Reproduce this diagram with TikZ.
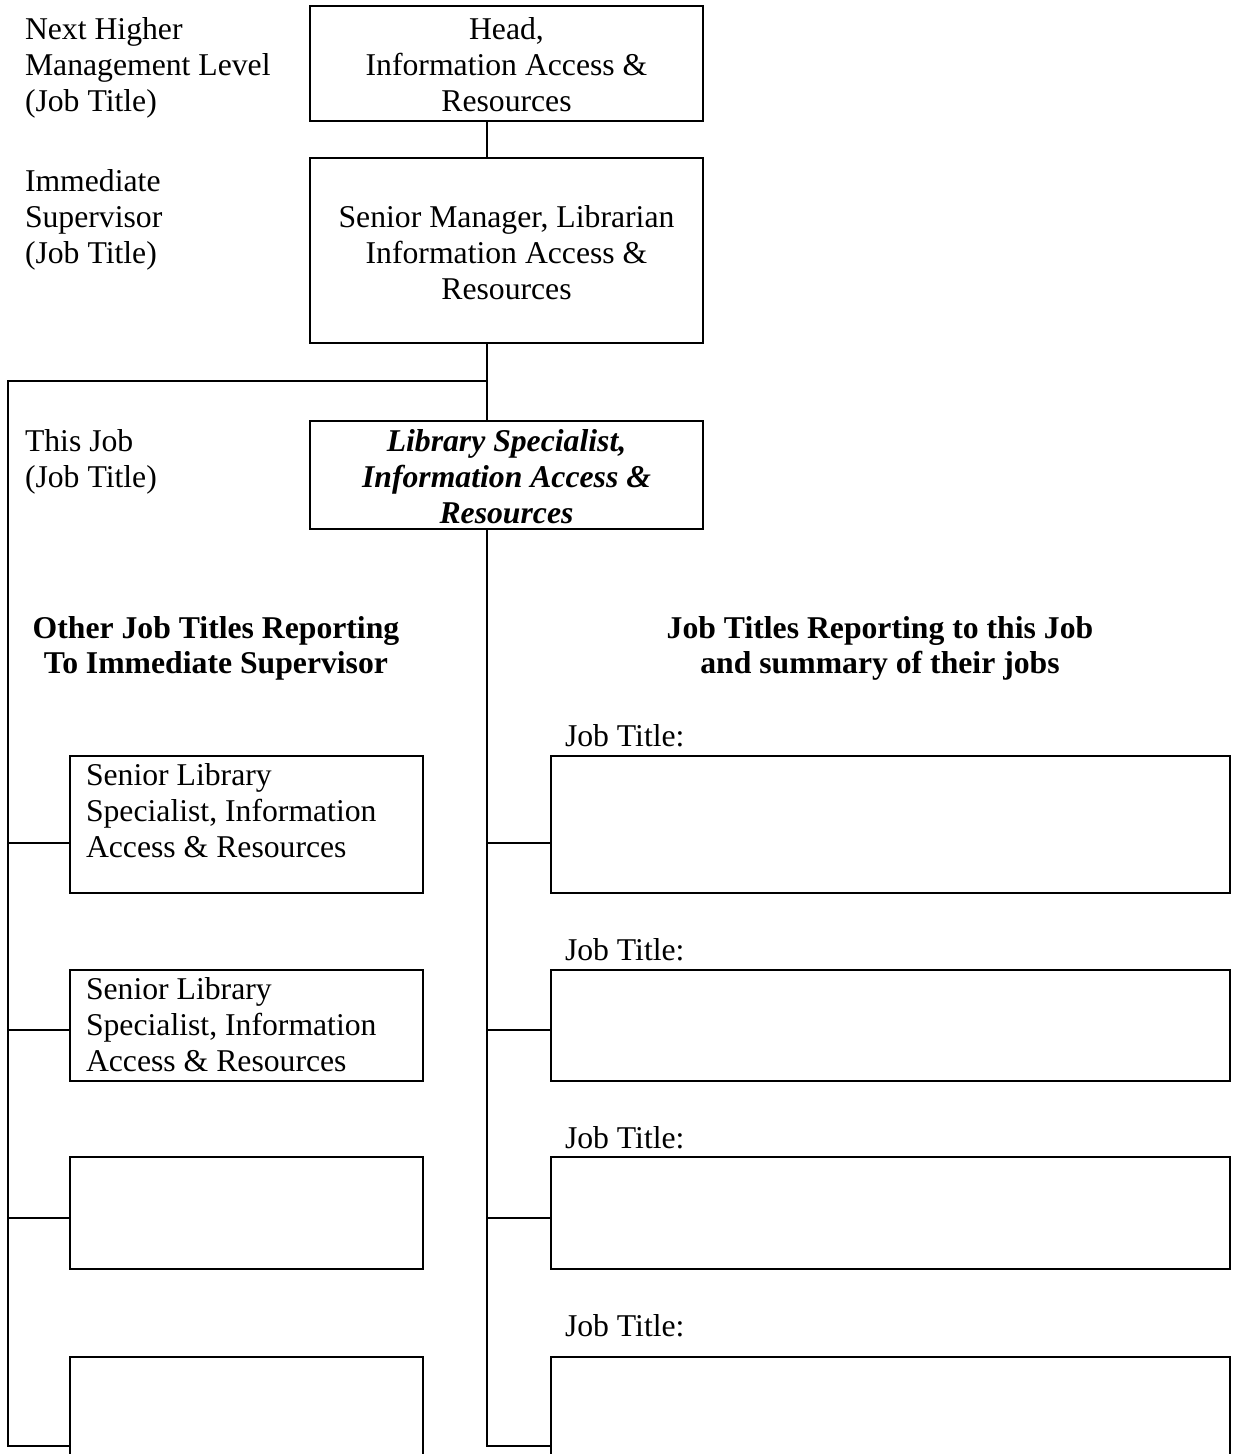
\documentclass[tikz,border=0pt]{standalone}
\usepackage{fontspec}
\setmainfont{Liberation Serif}
\newcommand{\firstln}{\rule{0pt}{25pt}}
\begin{document}
\begin{tikzpicture}[x=1pt,y=-1pt,
  every node/.style={font=\fontsize{31.7}{36}\selectfont, inner sep=0pt, outer sep=0pt},
  box/.style={draw, line width=2pt, rectangle, anchor=north west},
  conn/.style={line width=2pt, line cap=rect},
  lefttxt/.style={align=left, anchor=north west},
  ctrtxt/.style={align=center, anchor=north},
  hdr/.style={align=center, anchor=north, font=\fontsize{31.7}{35}\selectfont\bfseries}
]
\clip (0,0) rectangle (1232,1454);
\useasboundingbox (0,0) rectangle (1232,1454);

% main boxes
\node[box, minimum width=393pt, minimum height=115pt] (head) at (310,6) {};
\node[box, minimum width=393pt, minimum height=185pt] (senior) at (310,158) {};
\node[box, minimum width=393pt, minimum height=108pt] (lib) at (310,421) {};

\node[ctrtxt] (headtxt) at (506.5,14) {\firstln Head,\\Information Access \&\\Resources};
\node[ctrtxt] (seniortxt) at (506.5,202) {\firstln Senior Manager, Librarian\\Information Access \&\\Resources};
\node[ctrtxt, font=\fontsize{31.7}{36}\selectfont\bfseries\itshape] (libtxt) at (506.5,426) {\firstln Library Specialist,\\Information Access \&\\Resources};

% left labels
\node[lefttxt] (lab1) at (25,14) {\firstln Next Higher\\Management Level\\(Job Title)};
\node[lefttxt] (lab2) at (25,166) {\firstln Immediate\\Supervisor\\(Job Title)};
\node[lefttxt] (lab3) at (25,426) {\firstln This Job\\(Job Title)};

% headers
\node[hdr] (hdrL) at (216,613) {\firstln Other Job Titles Reporting\\To Immediate Supervisor};
\node[hdr] (hdrR) at (880,613) {\firstln Job Titles Reporting to this Job\\and summary of their jobs};

% left boxes
\node[box, minimum width=353pt, minimum height=137pt] (L1) at (70,756) {};
\node[box, minimum width=353pt, minimum height=111pt] (L2) at (70,970) {};
\node[box, minimum width=353pt, minimum height=112pt] (L3) at (70,1157) {};
\node[box, minimum width=353pt, minimum height=137pt] (L4) at (70,1357) {};
\node[lefttxt] (L1txt) at (86,760) {\firstln Senior Library\\Specialist, Information\\Access \& Resources};
\node[lefttxt] (L2txt) at (86,974) {\firstln Senior Library\\Specialist, Information\\Access \& Resources};

% right boxes
\node[box, minimum width=679pt, minimum height=137pt] (R1) at (551,756) {};
\node[box, minimum width=679pt, minimum height=111pt] (R2) at (551,970) {};
\node[box, minimum width=679pt, minimum height=112pt] (R3) at (551,1157) {};
\node[box, minimum width=679pt, minimum height=137pt] (R4) at (551,1357) {};
\node[lefttxt] (J1) at (565,721) {\firstln Job Title:};
\node[lefttxt] (J2) at (565,935) {\firstln Job Title:};
\node[lefttxt] (J3) at (565,1123) {\firstln Job Title:};
\node[lefttxt] (J4) at (565,1311) {\firstln Job Title:};

% connectors
\coordinate (sx) at (487,0);
\coordinate (branch) at (487,381);
\coordinate (lcorner) at (8,381);
\coordinate (y1) at (0,843);
\coordinate (y2) at (0,1030);
\coordinate (y3) at (0,1218);
\coordinate (y4) at (0,1446);

\draw[conn] (head.south -| sx) -- (senior.north -| sx);
\draw[conn] (senior.south -| sx) -- (lib.north -| sx);
\draw[conn] (branch) -- (lcorner) -- (lcorner |- y4) -- (y4 -| L4.west);
\draw[conn] (lcorner |- y1) -- (y1 -| L1.west);
\draw[conn] (lcorner |- y2) -- (y2 -| L2.west);
\draw[conn] (lcorner |- y3) -- (y3 -| L3.west);
\draw[conn] (lib.south -| sx) -- (sx |- y4) -- (y4 -| R4.west);
\draw[conn] (sx |- y1) -- (y1 -| R1.west);
\draw[conn] (sx |- y2) -- (y2 -| R2.west);
\draw[conn] (sx |- y3) -- (y3 -| R3.west);
\end{tikzpicture}
\end{document}
